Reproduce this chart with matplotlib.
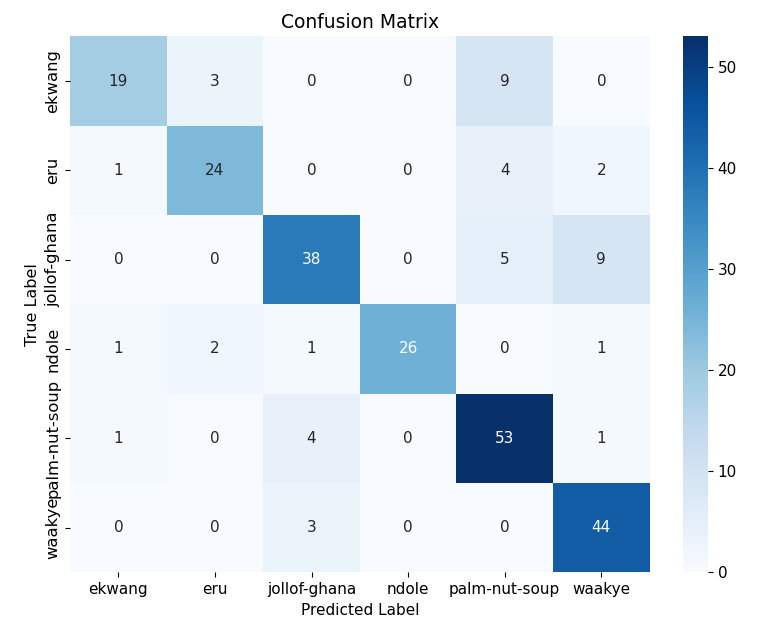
import numpy as np
import matplotlib
matplotlib.use('Agg')
import matplotlib.pyplot as plt
import seaborn as sns

labels = ['ekwang', 'eru', 'jollof-ghana', 'ndole', 'palm-nut-soup', 'waakye']
cm = np.array([
    [19, 3, 0, 0, 9, 0],
    [1, 24, 0, 0, 4, 2],
    [0, 0, 38, 0, 5, 9],
    [1, 2, 1, 26, 0, 1],
    [1, 0, 4, 0, 53, 1],
    [0, 0, 3, 0, 0, 44],
])

fig = plt.figure(figsize=(7.78, 6.38), dpi=100)
ax = fig.add_axes([0.09, 0.103, 0.745, 0.84])
cax = fig.add_axes([0.878, 0.103, 0.032, 0.84])
sns.heatmap(cm, annot=True, fmt='d', cmap='Blues', annot_kws={'size': 11},
            xticklabels=labels, yticklabels=labels, ax=ax, cbar_ax=cax)
ax.set_title('Confusion Matrix', fontsize=13.5)
ax.set_xlabel('Predicted Label', fontsize=11)
ax.set_ylabel('True Label', fontsize=11.5)
ax.tick_params(axis='x', labelsize=11)
ax.tick_params(axis='y', labelsize=11.8)
cax.tick_params(labelsize=11)
plt.savefig('out.png')
